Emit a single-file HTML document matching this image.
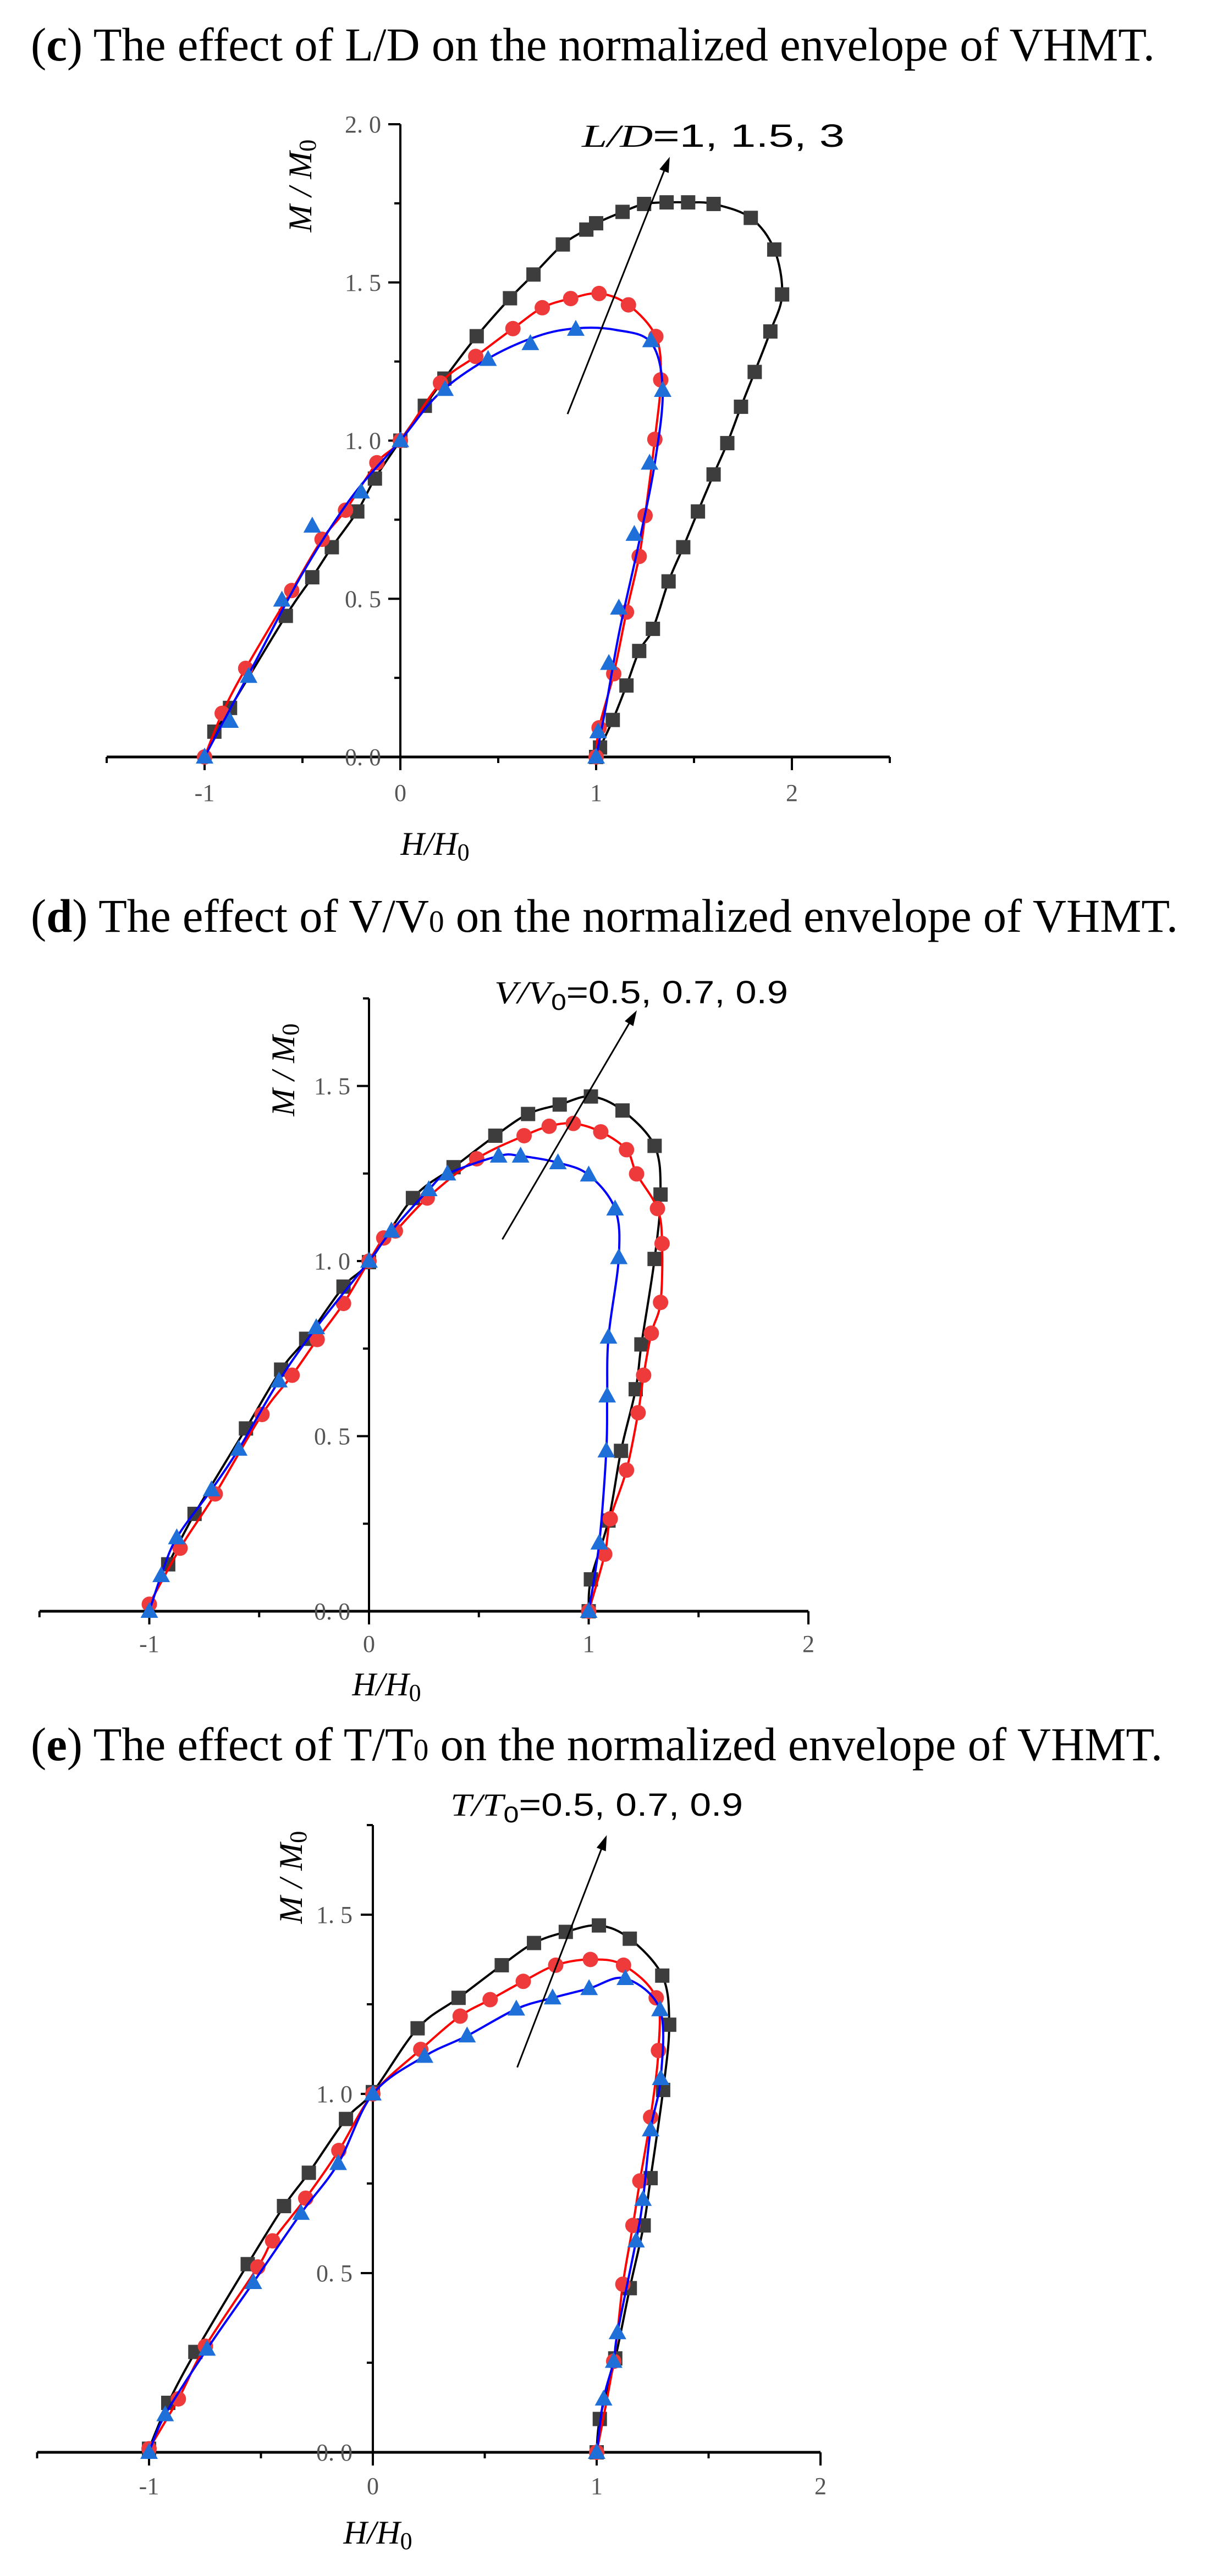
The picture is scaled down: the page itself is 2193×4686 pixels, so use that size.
<!DOCTYPE html>
<html><head><meta charset="utf-8"><title>Normalized envelope of VHMT</title>
<style>
html,body{margin:0;padding:0;background:#fff;}
svg{display:block;}
.title{font-family:"Liberation Serif",serif;font-size:86px;fill:#000;}
.tick{font-family:"Liberation Serif",serif;font-size:44px;fill:#555;}
.ax{font-family:"Liberation Serif",serif;font-style:italic;font-size:60px;fill:#000;}
.lab{font-family:"Liberation Sans",sans-serif;font-size:58px;fill:#000;}
</style></head>
<body>
<svg id="root" xmlns="http://www.w3.org/2000/svg" width="2193" height="4686" viewBox="0 0 2193 4686"></svg>
<script>
// ---- Chart (c): L/D ----
const cBlackH=[-0.95,-0.87,-0.585,-0.45,-0.35,-0.22,-0.13,0,0.125,0.225,0.39,0.56,0.68,0.83,0.95,1.0,1.135,1.245,1.36,1.47,1.6,1.79,1.91,1.95,1.89,1.81,1.74,1.67,1.6,1.52,1.445,1.37,1.29,1.22,1.155,1.085,1.02,1.0];
const cBlackM=[0.08,0.155,0.446,0.568,0.663,0.776,0.88,1.0,1.11,1.196,1.33,1.45,1.525,1.62,1.667,1.687,1.723,1.748,1.753,1.753,1.748,1.704,1.604,1.462,1.345,1.217,1.107,0.992,0.893,0.776,0.663,0.555,0.405,0.335,0.226,0.117,0.03,0];
const cRedH=[-1,-0.91,-0.79,-0.555,-0.4,-0.28,-0.12,0,0.205,0.385,0.575,0.725,0.87,1.015,1.165,1.305,1.33,1.3,1.25,1.22,1.155,1.09,1.015,1];
const cRedM=[0,0.138,0.28,0.526,0.688,0.78,0.93,1.0,1.182,1.266,1.354,1.42,1.449,1.465,1.429,1.329,1.192,1.004,0.763,0.634,0.458,0.263,0.092,0];
const cBlueH=[-1,-0.87,-0.775,-0.605,-0.45,-0.2,0,0.228,0.448,0.664,0.896,1.28,1.34,1.273,1.195,1.116,1.065,1.01,1];
const cBlueM=[0,0.113,0.255,0.496,0.73,0.838,1.0,1.162,1.257,1.307,1.352,1.316,1.159,0.929,0.704,0.471,0.296,0.08,0];
// fitted curve for L/D=1 (smooth, ignores scatter)
const cBlueFitH=[-1,-0.75,-0.5,-0.25,0,0.2,0.45,0.7,0.9,1.1,1.28,1.34,1.3,1.22,1.12,1.05,1];
const cBlueFitM=[0,0.29,0.58,0.82,1.0,1.15,1.26,1.33,1.355,1.35,1.31,1.16,0.93,0.68,0.4,0.16,0];
const cXTicks=[-1,0,1,2];
const cYTicks=[0.0,0.5,1.0,1.5,2.0];
// ---- Chart (d): V/V0 ----
const dBlackH=[-0.914,-0.794,-0.56,-0.4,-0.286,-0.116,0,0.2,0.385,0.575,0.724,0.868,1.01,1.154,1.3,1.327,1.3,1.24,1.214,1.147,1.09,1.01,1];
const dBlackM=[0.134,0.278,0.522,0.69,0.778,0.927,0.997,1.18,1.268,1.358,1.42,1.447,1.47,1.43,1.329,1.19,1.006,0.762,0.634,0.458,0.259,0.091,0];
const dRedH=[-1,-0.86,-0.7,-0.487,-0.35,-0.236,-0.116,0,0.067,0.12,0.265,0.49,0.706,0.82,0.93,1.055,1.172,1.218,1.313,1.334,1.327,1.285,1.25,1.225,1.172,1.098,1.073,1];
const dRedM=[0.02,0.18,0.335,0.562,0.674,0.776,0.879,1.0,1.066,1.086,1.18,1.292,1.358,1.385,1.393,1.369,1.318,1.249,1.15,1.05,0.882,0.794,0.674,0.567,0.403,0.264,0.163,0];
const dBlueH=[-1,-0.946,-0.875,-0.717,-0.593,-0.41,-0.24,0,0.102,0.272,0.357,0.59,0.69,0.86,1.0,1.12,1.137,1.09,1.084,1.08,1.048,1];
const dBlueM=[0,0.102,0.21,0.347,0.463,0.658,0.81,1.0,1.086,1.204,1.249,1.3,1.3,1.281,1.246,1.149,1.01,0.783,0.615,0.458,0.195,0];
const dXTicks=[-1,0,1,2];
const dYTicks=[0.0,0.5,1.0,1.5];
// ---- Chart (e): T/T0 ----
const eBlackH=[-1,-0.914,-0.793,-0.559,-0.397,-0.286,-0.12,0,0.2,0.383,0.576,0.72,0.862,1.01,1.148,1.293,1.324,1.297,1.241,1.21,1.148,1.083,1.014,1];
const eBlackM=[0.01,0.138,0.28,0.525,0.687,0.78,0.93,1.005,1.183,1.268,1.359,1.421,1.452,1.47,1.433,1.33,1.193,1.011,0.765,0.633,0.458,0.262,0.093,0];
const eRedH=[-1,-0.869,-0.748,-0.514,-0.448,-0.3,-0.152,0,0.214,0.39,0.524,0.672,0.817,0.972,1.12,1.266,1.276,1.241,1.193,1.162,1.117,1.076,1];
const eRedM=[0.01,0.149,0.296,0.517,0.59,0.709,0.842,1.0,1.124,1.217,1.263,1.314,1.359,1.375,1.359,1.268,1.121,0.935,0.757,0.633,0.469,0.254,0];
const eBlueH=[-1,-0.928,-0.741,-0.534,-0.321,-0.155,0,0.231,0.421,0.641,0.803,0.966,1.128,1.283,1.286,1.241,1.207,1.176,1.093,1.076,1.031,1];
const eBlueM=[0,0.105,0.288,0.474,0.667,0.806,1.0,1.105,1.162,1.237,1.268,1.294,1.322,1.235,1.043,0.9,0.706,0.59,0.334,0.254,0.149,0];
const eXTicks=[-1,0,1,2];
const eYTicks=[0.0,0.5,1.0,1.5];

const NS="http://www.w3.org/2000/svg";
const root=document.getElementById('root');
function mk(tag,attrs,parent){const e=document.createElementNS(NS,tag);for(const k in attrs)e.setAttribute(k,attrs[k]);(parent||root).appendChild(e);return e;}
function smooth(pts){let d='M'+pts[0][0].toFixed(1)+','+pts[0][1].toFixed(1);
 for(let i=0;i<pts.length-1;i++){const p0=pts[i-1]||pts[i],p1=pts[i],p2=pts[i+1],p3=pts[i+2]||p2;
  const c1=[p1[0]+(p2[0]-p0[0])/6,p1[1]+(p2[1]-p0[1])/6],c2=[p2[0]-(p3[0]-p1[0])/6,p2[1]-(p3[1]-p1[1])/6];
  d+=' C'+c1[0].toFixed(1)+','+c1[1].toFixed(1)+' '+c2[0].toFixed(1)+','+c2[1].toFixed(1)+' '+p2[0].toFixed(1)+','+p2[1].toFixed(1);}
 return d;}

function chart(cfg){
 const g=mk('g',{});
 
 
 const X=v=>cfg.x0+v*cfg.sx, Y=v=>cfg.y0-v*cfg.sy;
 const t=mk('text',{x:56,y:cfg.titleY,class:'title',textLength:cfg.titleW,lengthAdjust:'spacingAndGlyphs'},g);
 
 
 t.innerHTML=cfg.title;
 const xa=mk('line',{x1:X(cfg.xmin),y1:Y(0),x2:X(cfg.xmax),y2:Y(0),stroke:'#000','stroke-width':5},g);
 
 
 const ya=mk('line',{x1:X(0),y1:Y(0)+22,x2:X(0),y2:Y(cfg.ymax),stroke:'#000','stroke-width':4},g);
 
 
 for(let v=cfg.xmin;v<=cfg.xmax+1e-9;v+=0.5){const maj=Math.abs(v-Math.round(v))<1e-9;
  mk('line',{x1:X(v),y1:Y(0),x2:X(v),y2:Y(0)+(maj?24:11),stroke:'#000','stroke-width':4},g);}
 for(let v=0.25;v<=cfg.ymax+1e-9;v+=0.25){const maj=Math.abs(v*2-Math.round(v*2))<1e-9;
  mk('line',{x1:X(0),y1:Y(v),x2:X(0)-(maj?22:11),y2:Y(v),stroke:'#000','stroke-width':4},g);}
 cfg.xt.forEach(v=>{const e=mk('text',{x:X(v),y:cfg.xtY,class:'tick','text-anchor':'middle','dominant-baseline':'middle'},g);
  
  
  e.textContent=String(v);});
 cfg.yt.forEach(v=>{const e=mk('text',{x:cfg.ytX,y:Y(v)+15,class:'tick','text-anchor':'end'},g);
  
  
  e.textContent=v.toFixed(1).replace('.','. ');});
 const xl=mk('text',{x:cfg.xlab[0],y:cfg.xlab[1],class:'ax','text-anchor':'middle','dominant-baseline':'middle'},g);
 
 
 xl.innerHTML='H/H<tspan font-style="normal" font-size="44" dy="14">0</tspan>';
 const yl=mk('text',{x:0,y:0,class:'ax','text-anchor':'middle','dominant-baseline':'middle',transform:'translate('+cfg.ylab[0]+','+cfg.ylab[1]+') rotate(-90)'},g);
 
 
 yl.innerHTML='M / M<tspan font-style="normal" font-size="44" dy="12">0</tspan>';
 cfg.series.forEach(s=>{
  const pts=s.h.map((h,i)=>[X(h),Y(s.m[i])]);
  const lh=s.lh||s.h, lm=s.lm||s.m;
  const lpts=lh.map((h,i)=>[X(h),Y(lm[i])]);
  const p=mk('path',{d:smooth(lpts),fill:'none',stroke:s.line,'stroke-width':4},g);
  
  
  pts.forEach(q=>{let e;
   if(s.shape==='sq')e=mk('rect',{x:q[0]-13,y:q[1]-13,width:26,height:26,fill:s.fill},g);
   else if(s.shape==='ci')e=mk('circle',{cx:q[0],cy:q[1],r:14,fill:s.fill},g);
   else e=mk('polygon',{points:(q[0])+','+(q[1]-17)+' '+(q[0]-16)+','+(q[1]+12)+' '+(q[0]+16)+','+(q[1]+12),fill:s.fill},g);
   
   });
 });
 const a=cfg.arrow, ax1=X(a[0]),ay1=Y(a[1]),ax2=X(a[2]),ay2=Y(a[3]);
 const ang=Math.atan2(ay2-ay1,ax2-ax1);
 const al=mk('line',{x1:ax1,y1:ay1,x2:ax2-20*Math.cos(ang),y2:ay2-20*Math.sin(ang),stroke:'#000','stroke-width':3},g);
 
 
 const hx=ax2-28*Math.cos(ang),hy=ay2-28*Math.sin(ang),px=-Math.sin(ang)*9,py=Math.cos(ang)*9;
 const ah=mk('polygon',{points:ax2+','+ay2+' '+(hx+px)+','+(hy+py)+' '+(hx-px)+','+(hy-py),fill:'#000'},g);
 
 
 const lb=mk('text',{x:cfg.lab[0],y:cfg.lab[1],class:'lab',textLength:cfg.lab[2],lengthAdjust:'spacingAndGlyphs'},g);
 
 
 lb.innerHTML=cfg.labHtml;
}

const SB=(n,fill,line,shape,h,m,lh,lm)=>({name:n,fill,line,shape,h,m,lh,lm});
chart({id:'c',x0:728,sx:356,y0:1377,sy:575.5,xmin:-1.5,xmax:2.5,ymax:2.0,
 title:'(<tspan font-weight="bold">c</tspan>) The effect of L/D on the normalized envelope of VHMT.',titleY:110,titleW:2044,
 xt:cXTicks,yt:cYTicks,xtY:1447,ytX:693,xlab:[791,1541],ylab:[552,338],
 arrow:[0.854,1.084,1.376,1.897],lab:[1058,267,478],
 labHtml:'<tspan font-family="Liberation Serif" font-style="italic">L/D</tspan>=1,  1.5,  3',
 series:[SB('ld3','#3d3d3d','#000','sq',cBlackH,cBlackM),SB('ld1-5','#ee3a3a','#ff0000','ci',cRedH,cRedM),SB('ld1','#1f6fd8','#0000ff','tr',cBlueH,cBlueM,cBlueFitH,cBlueFitM)]});
chart({id:'d',x0:671,sx:399.5,y0:2931,sy:637,xmin:-1.5,xmax:2,ymax:1.75,
 title:'(<tspan font-weight="bold">d</tspan>) The effect of V/V<tspan font-size="56">0</tspan> on the normalized envelope of VHMT.',titleY:1695,titleW:2086,
 xt:dXTicks,yt:dYTicks,xtY:2995,ytX:637,xlab:[703,3070],ylab:[521,1946],
 arrow:[0.607,1.062,1.219,1.716],lab:[899,1825,534],
 labHtml:'<tspan font-family="Liberation Serif" font-style="italic">V/V</tspan><tspan font-size="42" dy="12">0</tspan><tspan dy="-12">=0.5,  0.7,  0.9</tspan>',
 series:[SB('v09','#3d3d3d','#000','sq',dBlackH,dBlackM),SB('v07','#ee3a3a','#ff0000','ci',dRedH,dRedM),SB('v05','#1f6fd8','#0000ff','tr',dBlueH,dBlueM)]});
chart({id:'e',x0:678,sx:407,y0:4461,sy:652,xmin:-1.5,xmax:2,ymax:1.75,
 title:'(<tspan font-weight="bold">e</tspan>) The effect of T/T<tspan font-size="56">0</tspan> on the normalized envelope of VHMT.',titleY:3202,titleW:2058,
 xt:eXTicks,yt:eYTicks,xtY:4527,ytX:641,xlab:[687,4613],ylab:[535,3415],
 arrow:[0.645,1.074,1.045,1.722],lab:[819,3303,532],
 labHtml:'<tspan font-family="Liberation Serif" font-style="italic">T/T</tspan><tspan font-size="42" dy="12">0</tspan><tspan dy="-12">=0.5,  0.7,  0.9</tspan>',
 series:[SB('t05','#3d3d3d','#000','sq',eBlackH,eBlackM),SB('t07','#ee3a3a','#ff0000','ci',eRedH,eRedM),SB('t09','#1f6fd8','#0000ff','tr',eBlueH,eBlueM)]});
</script>
</body></html>
